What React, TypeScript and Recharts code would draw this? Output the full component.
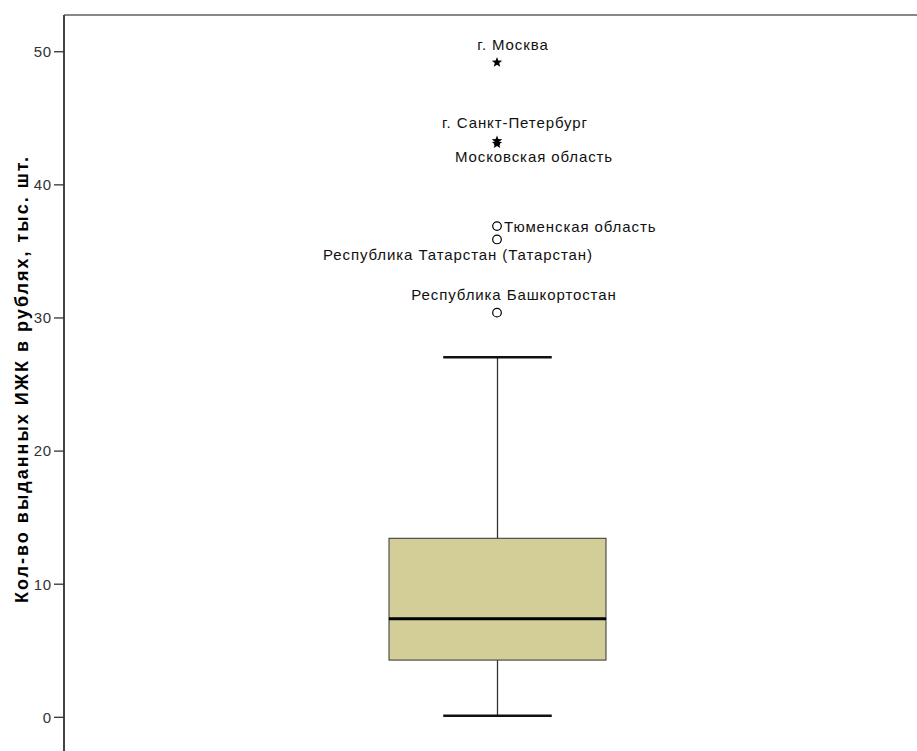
import { ComposedChart, Bar, Scatter, XAxis, YAxis } from 'recharts'

// box summary (тыс. шт.)
const category = 'ИЖК'
const boxMin = 0.12
const boxQ1 = 4.3
const boxMedian = 7.4
const boxQ3 = 13.45
const boxMax = 27.05

// outliers: kind 'extreme' = star, 'outlier' = circle
const outlierNames = [
  'г. Москва',
  'г. Санкт-Петербург',
  'Московская область',
  'Тюменская область',
  'Республика Татарстан (Татарстан)',
  'Республика Башкортостан',
]
const outlierValues = [49.2, 43.3, 43.1, 36.9, 35.9, 30.4]
const outlierKinds = ['extreme', 'extreme', 'extreme', 'outlier', 'outlier', 'outlier']

const yTicks = [0, 10, 20, 30, 40, 50]
const yTitle = 'Кол-во выданных ИЖК в рублях, тыс. шт.'

const boxData = [
  {
    name: category,
    base: boxMin,
    lowWhisker: boxQ1 - boxMin,
    lowBox: boxMedian - boxQ1,
    highBox: boxQ3 - boxMedian,
    highWhisker: boxMax - boxQ3,
  },
]

const outlierData = outlierNames.map((label, i) => ({
  name: category,
  value: outlierValues[i],
  label,
  kind: outlierKinds[i],
}))

// label placement relative to the point (anchor, dx, dy to baseline)
const labelPlacement: Record<string, { anchor: string; dx: number; dy: number }> = {
  'г. Москва': { anchor: 'middle', dx: 16, dy: -12 },
  'г. Санкт-Петербург': { anchor: 'middle', dx: 18, dy: -13 },
  'Московская область': { anchor: 'middle', dx: 37, dy: 18 },
  'Тюменская область': { anchor: 'start', dx: 7, dy: 6 },
  'Республика Татарстан (Татарстан)': { anchor: 'middle', dx: -39, dy: 21 },
  'Республика Башкортостан': { anchor: 'middle', dx: 17, dy: -13 },
}

const font = '"Liberation Sans", Arial, sans-serif'
const boxFill = '#d3ce98'

const whisker = (capAtTop: boolean) => (props: any) => {
  const { x, y, width, height } = props
  const cx = x + width / 2
  const capY = capAtTop ? y : y + height
  const half = width / 4
  return (
    <g>
      <line x1={cx} x2={cx} y1={y} y2={y + height} stroke="#333" strokeWidth={1.3} />
      <line x1={cx - half} x2={cx + half} y1={capY} y2={capY} stroke="#111" strokeWidth={2.5} />
    </g>
  )
}

const boxPart = (withMedian: boolean) => (props: any) => {
  const { x, y, width, height } = props
  return (
    <g>
      <rect x={x} y={y} width={width} height={height} fill={boxFill} stroke="#333" strokeWidth={1} />
      {withMedian && (
        <line x1={x} x2={x + width} y1={y + height} y2={y + height} stroke="#000" strokeWidth={3} />
      )}
    </g>
  )
}

const starPath = (cx: number, cy: number, r: number) => {
  const pts: string[] = []
  for (let i = 0; i < 10; i++) {
    const rr = i % 2 === 0 ? r : r * 0.42
    const a = -Math.PI / 2 + (i * Math.PI) / 5
    pts.push(`${cx + rr * Math.cos(a)},${cy + rr * Math.sin(a)}`)
  }
  return `M${pts.join('L')}Z`
}

const OutlierShape = (props: any) => {
  const { cx, cy, payload } = props
  const p = labelPlacement[payload.label]
  return (
    <g>
      {payload.kind === 'extreme' ? (
        <path d={starPath(cx, cy, 5.5)} fill="#000" />
      ) : (
        <circle cx={cx} cy={cy} r={4.3} fill="none" stroke="#000" strokeWidth={1.2} />
      )}
      <text
        x={cx + p.dx}
        y={cy + p.dy}
        textAnchor={p.anchor as any}
        fontFamily={font}
        fontSize={15}
        letterSpacing={0.9}
        fill="#111"
      >
        {payload.label}
      </text>
    </g>
  )
}

const YTitle = (props: any) => {
  const { viewBox } = props
  const cy = viewBox.y + viewBox.height / 2 - 4
  return (
    <text
      x={28}
      y={cy}
      transform={`rotate(-90, 28, ${cy})`}
      textAnchor="middle"
      fontFamily={font}
      fontSize={18}
      fontWeight="bold"
      letterSpacing={2}
      fill="#000"
    >
      {yTitle}
    </text>
  )
}

export default function App() {
  return (
    <div
      style={{
        position: 'fixed',
        left: 0,
        top: 0,
        width: 917,
        height: 751,
        overflow: 'hidden',
        background: '#fff',
      }}
    >
      <ComposedChart
        width={930}
        height={751}
        data={boxData}
        margin={{ top: 14, right: 0, bottom: 0, left: 0 }}
        barCategoryGap={0}
      >
        <XAxis
          dataKey="name"
          orientation="top"
          height={1}
          tick={false}
          tickLine={false}
          allowDuplicatedCategory={false}
          axisLine={{ stroke: '#888', strokeWidth: 2 }}
        />
        <YAxis
          type="number"
          width={64}
          domain={[-2.53, 52.76]}
          allowDataOverflow
          ticks={yTicks}
          interval={0}
          tickSize={10}
          tickMargin={2}
          axisLine={{ stroke: '#444', strokeWidth: 2 }}
          tickLine={{ stroke: '#333', strokeWidth: 1.3 }}
          tick={{ fill: '#333', fontSize: 15, fontFamily: font, letterSpacing: 0.8 }}
          label={<YTitle />}
        />
        <Bar dataKey="base" stackId="box" fill="none" barSize={217} isAnimationActive={false} />
        <Bar dataKey="lowWhisker" stackId="box" barSize={217} shape={whisker(false)} isAnimationActive={false} />
        <Bar dataKey="lowBox" stackId="box" barSize={217} shape={boxPart(false)} isAnimationActive={false} />
        <Bar dataKey="highBox" stackId="box" barSize={217} shape={boxPart(true)} isAnimationActive={false} />
        <Bar dataKey="highWhisker" stackId="box" barSize={217} shape={whisker(true)} isAnimationActive={false} />
        <Scatter data={outlierData} dataKey="value" shape={OutlierShape} isAnimationActive={false} />
      </ComposedChart>
    </div>
  )
}
